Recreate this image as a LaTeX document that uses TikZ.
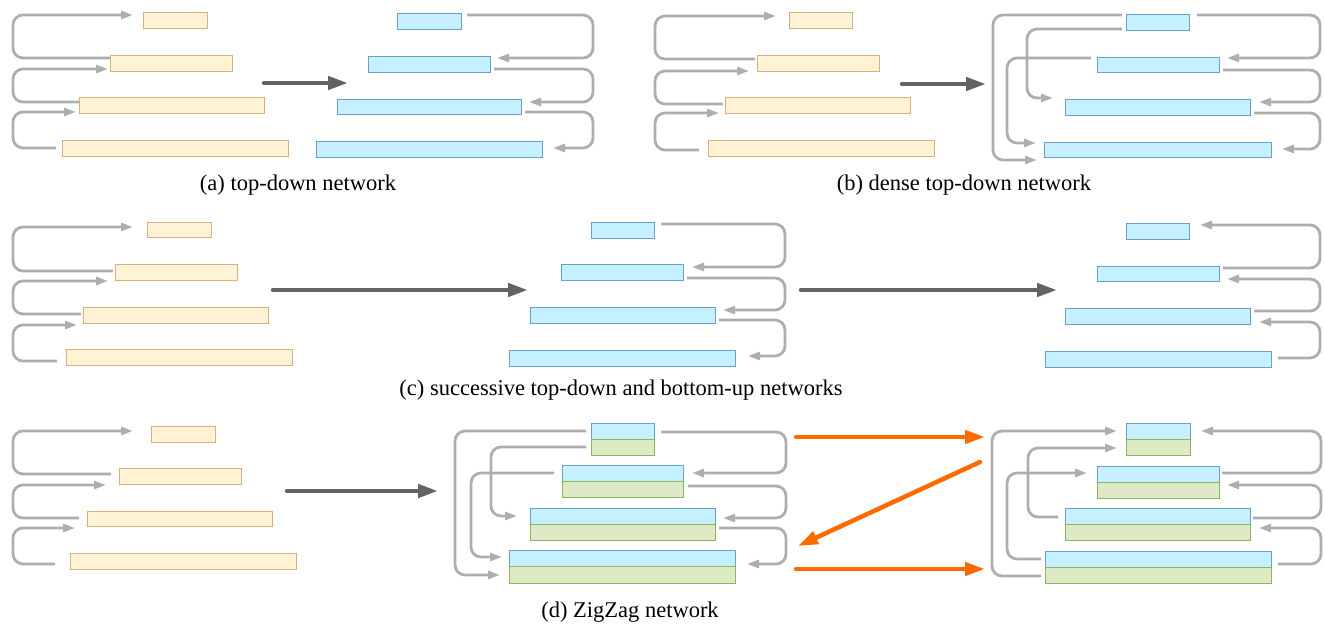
\documentclass[tikz,border=0pt]{standalone}
\usepackage{fontspec}
\setmainfont{Liberation Serif}
\usetikzlibrary{arrows.meta}
\definecolor{ofill}{HTML}{FFF2D5}
\definecolor{oline}{HTML}{D8B27E}
\definecolor{bfill}{HTML}{C4F0FF}
\definecolor{bline}{HTML}{6C9FCB}
\definecolor{gfill}{HTML}{DEE9C6}
\definecolor{gline}{HTML}{8FB35E}
\definecolor{garrow}{HTML}{AEAEAE}
\definecolor{darrow}{HTML}{636363}
\definecolor{oarrow}{HTML}{FF6A00}
\newcommand\mybox[6]{\node[#2,minimum width={(#5-#3)*1pt},minimum height={(#6-#4)*1pt}] (#1) at ({(#3+#5)/2},{(#4+#6)/2}) {};}
\newcommand\garr[5]{\draw[ga] (#1,#2) -| (#3,#5) -- (#4,#5);}
\tikzset{
  basebox/.style={rectangle,inner sep=0pt,outer sep=0pt,line width=0.9pt},
  obox/.style={basebox,draw=oline,fill=ofill},
  bbox/.style={basebox,draw=bline,fill=bfill},
  gbox/.style={basebox,draw=gline,fill=gfill},
  ga/.style={draw=garrow,line width=2.8pt,rounded corners=10pt,-{Triangle[length=12pt,width=8pt]}},
  da/.style={draw=darrow,fill=darrow,line width=4.5pt,line cap=round,-{Triangle[length=20pt,width=13pt]}},
  oa/.style={draw=oarrow,fill=oarrow,line width=4.5pt,line cap=round,-{Triangle[length=20pt,width=13pt]}},
  captxt/.style={inner sep=0pt,font=\fontsize{22.5}{27}\selectfont}
}
\begin{document}
\begin{tikzpicture}[x=1pt,y=-1pt]
\useasboundingbox (0,0) rectangle (1325,626);
% ---------- (a)
\mybox{ao1}{obox}{143}{12}{207}{28}
\mybox{ao2}{obox}{110}{55}{232}{71}
\mybox{ao3}{obox}{79}{97}{264}{113}
\mybox{ao4}{obox}{62}{140}{288}{156}
\mybox{ab1}{bbox}{397}{13}{461}{29}
\mybox{ab2}{bbox}{368}{56}{490}{72}
\mybox{ab3}{bbox}{337}{99}{521}{114}
\mybox{ab4}{bbox}{316}{141}{542}{157}
\garr{110}{58}{13}{133}{15}
\garr{79}{102}{13}{108}{69}
\garr{56}{148}{13}{76}{112}
\garr{467}{15}{593}{497}{58}
\garr{494}{69}{593}{529}{102}
\garr{525}{112}{593}{553}{148}
\draw[da] (264,83) -- (348,83);
\node[captxt] (capa) at (298,185) {(a) top-down network};
% ---------- (b)
\mybox{bo1}{obox}{789}{12}{852}{28}
\mybox{bo2}{obox}{757}{55}{879}{71}
\mybox{bo3}{obox}{725}{97}{910}{113}
\mybox{bo4}{obox}{708}{140}{934}{156}
\mybox{bb1}{bbox}{1126}{14}{1189}{30}
\mybox{bb2}{bbox}{1097}{57}{1219}{72}
\mybox{bb3}{bbox}{1065}{99}{1250}{115}
\mybox{bb4}{bbox}{1044}{142}{1271}{157}
\garr{755}{59}{655}{776}{16}
\garr{723}{104}{655}{749}{71}
\garr{699}{150}{655}{719}{113}
\garr{1197}{15}{1320}{1227}{58}
\garr{1223}{70}{1320}{1259}{102}
\garr{1254}{113}{1320}{1282}{149}
\garr{1122}{15}{993}{1037}{160}
\garr{1122}{29}{1027}{1053}{98}
\garr{1091}{58}{1007}{1036}{143}
\draw[da] (902,84) -- (986,84);
\node[captxt] (capb) at (964,185) {(b) dense top-down network};
% ---------- (c)
\mybox{co1}{obox}{147}{222}{211}{237}
\mybox{co2}{obox}{115}{264}{237}{280}
\mybox{co3}{obox}{83}{307}{268}{323}
\mybox{co4}{obox}{66}{349}{292}{365}
\garr{113}{271}{13}{133}{227}
\garr{81}{314}{13}{108}{281}
\garr{57}{361}{13}{77}{325}
\draw[da] (273,290) -- (528,290);
\mybox{cb1}{bbox}{591}{222}{654}{238}
\mybox{cb2}{bbox}{561}{264}{683}{280}
\mybox{cb3}{bbox}{530}{307}{715}{323}
\mybox{cb4}{bbox}{509}{350}{735}{366}
\garr{661}{224}{785}{692}{267}
\garr{687}{278}{785}{723}{310}
\garr{719}{320}{785}{748}{356}
\draw[da] (801,290) -- (1057,290);
\mybox{cr1}{bbox}{1126}{223}{1189}{239}
\mybox{cr2}{bbox}{1097}{266}{1219}{281}
\mybox{cr3}{bbox}{1065}{308}{1250}{324}
\mybox{cr4}{bbox}{1045}{351}{1271}{367}
\garr{1223}{268}{1320}{1200}{225}
\garr{1254}{311}{1320}{1227}{279}
\garr{1278}{358}{1320}{1259}{322}
\node[captxt] (capc) at (621,390) {(c) successive top-down and bottom-up networks};
% ---------- (d)
\mybox{do1}{obox}{151}{426}{215}{442}
\mybox{do2}{obox}{119}{468}{241}{484}
\mybox{do3}{obox}{87}{511}{272}{526}
\mybox{do4}{obox}{70}{553}{296}{569}
\garr{111}{474}{13}{133}{431}
\garr{79}{518}{13}{106}{485}
\garr{55}{564}{13}{75}{528}
\draw[da] (287,491) -- (438,491);
\mybox{dmb1}{bbox}{591}{423}{654}{439}
\mybox{dmg1}{gbox}{591}{439}{654}{455}
\mybox{dmb2}{bbox}{562}{465}{683}{481}
\mybox{dmg2}{gbox}{562}{481}{683}{497}
\mybox{dmb3}{bbox}{530}{508}{715}{524}
\mybox{dmg3}{gbox}{530}{524}{715}{540}
\mybox{dmb4}{bbox}{509}{550}{735}{566}
\mybox{dmg4}{gbox}{509}{566}{735}{583}
\garr{586}{431}{455}{500}{575}
\garr{586}{447}{491}{517}{516}
\garr{554}{473}{471}{502}{557}
\garr{661}{432}{786}{692}{473}
\garr{688}{486}{786}{723}{518}
\garr{719}{528}{786}{747}{564}
\draw[oa] (796,437) -- (985,437);
\draw[oa] (980,462) -- (798,546);
\draw[oa] (796,569) -- (985,569);
\mybox{drb1}{bbox}{1126}{423}{1190}{439}
\mybox{drg1}{gbox}{1126}{439}{1190}{455}
\mybox{drb2}{bbox}{1097}{466}{1219}{482}
\mybox{drg2}{gbox}{1097}{482}{1219}{498}
\mybox{drb3}{bbox}{1065}{508}{1250}{524}
\mybox{drg3}{gbox}{1065}{524}{1250}{540}
\mybox{drb4}{bbox}{1045}{551}{1271}{567}
\mybox{drg4}{gbox}{1045}{567}{1271}{583}
\garr{1041}{576}{992}{1117}{431}
\garr{1058}{517}{1028}{1117}{448}
\garr{1041}{559}{1007}{1087}{473}
\garr{1222}{473}{1321}{1201}{431}
\garr{1253}{518}{1321}{1227}{485}
\garr{1278}{564}{1321}{1259}{528}
\node[captxt] (capd) at (630,612) {(d) ZigZag network};
\end{tikzpicture}
\end{document}
